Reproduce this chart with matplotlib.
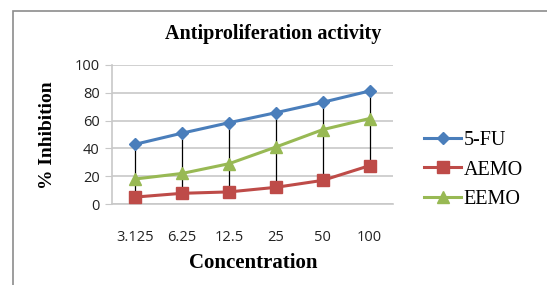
import matplotlib
matplotlib.use("Agg")
import matplotlib.pyplot as plt
from matplotlib.patches import Rectangle
import numpy as np

categories = ["3.125", "6.25", "12.5", "25", "50", "100"]
fu = [43, 51, 58.5, 65.7, 73.2, 81.3]
aemo = [5, 7.7, 8.7, 12, 17, 27.6]
eemo = [18, 22, 29, 41, 53.5, 61.5]
yticks = [0, 20, 40, 60, 80, 100]

W, H = 547, 285
fig = plt.figure(figsize=(W / 100, H / 100), dpi=100)
fig.patch.set_facecolor("white")

# outer frame
fig.patches.append(Rectangle((13 / W, -0.1), 2, 1 - 11 / H + 0.1,
                             transform=fig.transFigure, fill=False,
                             edgecolor="#8c8c8c", linewidth=1.2))

ax = fig.add_axes([112 / W, 1 - 204 / H, (393 - 112) / W, (204 - 65) / H])
x = np.arange(len(categories))

serif = ["Liberation Serif", "DejaVu Serif"]
sans = ["Open Sans", "DejaVu Sans"]

# high-low lines
for i in x:
    vals = [fu[i], aemo[i], eemo[i]]
    ax.plot([i, i], [min(vals), max(vals)], color="black", lw=0.9, zorder=2)

ax.plot(x, fu, color="#4A7EBB", lw=2.2, marker="D", ms=6.5, label="5-FU", zorder=3)
ax.plot(x, aemo, color="#BE4B48", lw=2.2, marker="s", ms=9, label="AEMO", zorder=3)
ax.plot(x, eemo, color="#98B954", lw=2.2, marker="^", ms=9, label="EEMO", zorder=3)

ax.set_xlim(-0.5, len(categories) - 0.5)
ax.set_ylim(0, 100)
ax.set_yticks(yticks)
ax.set_xticks(x)
ax.set_xticklabels(categories)
ax.grid(axis="y", color="#c8c8c8", lw=1.2)
ax.set_axisbelow(True)
for s in ["top", "right"]:
    ax.spines[s].set_visible(False)
ax.spines["left"].set_color("#c8c8c8")
ax.spines["bottom"].set_color("#c8c8c8")
ax.spines["left"].set_linewidth(1.2)
ax.spines["bottom"].set_linewidth(1.2)
ax.tick_params(axis="y", length=5, color="#c8c8c8", labelsize=10.5, pad=4)
ax.tick_params(axis="x", length=0, labelsize=10.5, pad=19)
for lab in ax.get_xticklabels() + ax.get_yticklabels():
    lab.set_family(sans)
    lab.set_color("#222222")

fig.text(273 / W, 1 - 34 / H, "Antiproliferation activity", ha="center", va="center",
         fontsize=14.5, fontweight="bold", family=serif)
fig.text(253 / W, 1 - 263 / H, "Concentration", ha="center", va="center",
         fontsize=15, fontweight="bold", family=serif)
fig.text(47 / W, 1 - 135 / H, "% Inhibition", ha="center", va="center", rotation=90,
         fontsize=14, fontweight="bold", family=serif)

leg = fig.legend(loc="center left", bbox_to_anchor=(416 / W, 1 - 170 / H),
                 frameon=False, prop={"family": serif, "size": 14.5},
                 handlelength=1.85, handletextpad=0.1, labelspacing=0.5, borderaxespad=0)

fig.savefig("out.png", dpi=100, facecolor="white")
